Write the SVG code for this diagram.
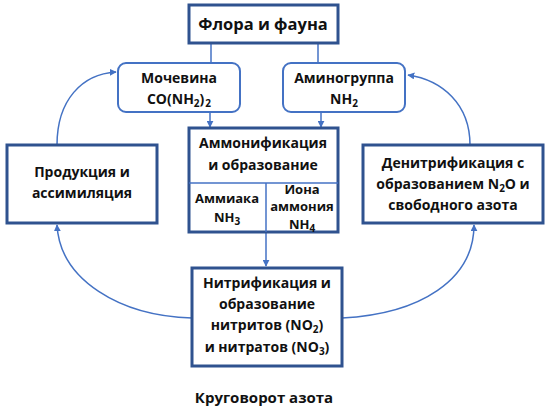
<svg xmlns="http://www.w3.org/2000/svg" width="550" height="414" viewBox="0 0 550 414">
<style>
text{font-family:"Open Sans","Liberation Sans",sans-serif;font-weight:bold;fill:#111;text-anchor:middle;font-size:14px}
.box{fill:#fff;stroke:#2F528F;stroke-width:3}
.rbox{fill:#fff;stroke:#4472C4;stroke-width:2}
.ln{fill:none;stroke:#4472C4;stroke-width:1.5}
.sm{font-size:13px}
.sub{font-size:10px}
</style>
<defs>
<marker id="ah" viewBox="0 0 10 10" refX="9" refY="5" markerWidth="7" markerHeight="7" orient="auto" markerUnits="userSpaceOnUse">
<path d="M0,0 L10,5 L0,10 z" fill="#4472C4"/>
</marker>
</defs>
<rect width="550" height="414" fill="#fff"/>
<g id="connectors">
<line class="ln" x1="211" y1="43" x2="211" y2="63"/>
<line class="ln" x1="318" y1="43" x2="318" y2="63"/>
<line class="ln" x1="210" y1="112" x2="210" y2="127" marker-end="url(#ah)"/>
<line class="ln" x1="321" y1="112" x2="321" y2="127" marker-end="url(#ah)"/>
<line class="ln" x1="266" y1="232" x2="266" y2="266" marker-end="url(#ah)"/>
<path class="ln" d="M57,145 C57,100 82,74 116,72" marker-end="url(#ah)"/>
<path class="ln" d="M470,145 C470,104 442,80 408,75" marker-end="url(#ah)"/>
<path class="ln" d="M192,318 C120,316 60,280 57,225" marker-end="url(#ah)"/>
<path class="ln" d="M342,318 C420,314 474,280 474,225" marker-end="url(#ah)"/>
</g>
<g id="flora">
<rect class="box" x="189" y="5" width="149" height="38"/>
<text x="263" y="30" style="font-size:16.5px">Флора и фауна</text>
</g>
<g id="mochevina">
<rect class="rbox" x="118" y="63" width="122" height="49" rx="8"/>
<text x="179" y="83">Мочевина</text>
<text x="179" y="104">CO(NH<tspan class="sub" dy="3">2</tspan><tspan dy="-3">)</tspan><tspan class="sub" dy="3" dx="1">2</tspan></text>
</g>
<g id="aminogruppa">
<rect class="rbox" x="283" y="63" width="122" height="49" rx="8"/>
<text x="344" y="83">Аминогруппа</text>
<text x="344" y="104">NH<tspan class="sub" dy="3">2</tspan></text>
</g>
<g id="ammonification">
<rect class="box" x="189" y="128" width="149" height="104"/>
<line x1="189" y1="183" x2="338" y2="183" stroke="#4472C4" stroke-width="1.5"/>
<line x1="266" y1="183" x2="266" y2="232" stroke="#4472C4" stroke-width="1.5"/>
<text x="263" y="148">Аммонификация</text>
<text x="263" y="170">и образование</text>
<text class="sm" x="227" y="203">Аммиака</text>
<text class="sm" x="227" y="222">NH<tspan class="sub" dy="3">3</tspan></text>
<text class="sm" x="302" y="194">Иона</text>
<text class="sm" x="302" y="211">аммония</text>
<text class="sm" x="302" y="229">NH<tspan class="sub" dy="3">4</tspan></text>
</g>
<g id="production">
<rect class="box" x="7" y="145" width="150" height="78"/>
<text x="82" y="177">Продукция и</text>
<text x="82" y="198">ассимиляция</text>
</g>
<g id="denitrification">
<rect class="box" x="363" y="145" width="180" height="78"/>
<text x="453" y="168">Денитрификация с</text>
<text x="453" y="189">образованием N<tspan class="sub" dy="3">2</tspan><tspan dy="-3">O и</tspan></text>
<text x="453" y="210">свободного азота</text>
</g>
<g id="nitrification">
<rect class="box" x="192" y="268" width="150" height="98"/>
<text x="267" y="288">Нитрификация и</text>
<text x="267" y="309">образование</text>
<text x="267" y="330">нитритов (NO<tspan class="sub" dy="3">2</tspan><tspan dy="-3">)</tspan></text>
<text x="267" y="352">и нитратов (NO<tspan class="sub" dy="3">3</tspan><tspan dy="-3">)</tspan></text>
</g>
<text x="264" y="403" style="font-size:15px">Круговорот азота</text>
</svg>
